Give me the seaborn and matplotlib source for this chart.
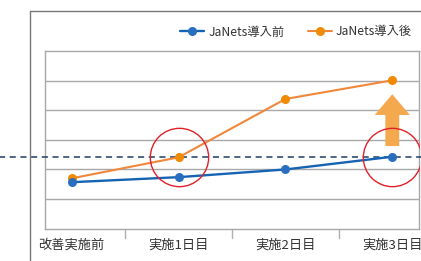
import numpy as np
import pandas as pd
import seaborn as sns
import matplotlib.pyplot as plt
from matplotlib.lines import Line2D
from matplotlib.patches import FancyArrow

categories = ['改善実施前', '実施1日目', '実施2日目', '実施3日目']
before = [1.57, 1.74, 2.00, 2.43]
after = [1.70, 2.41, 4.38, 5.01]
target = 2.42
series_names = ['JaNets導入前', 'JaNets導入後']

df = pd.DataFrame({
    'day': categories * 2,
    'value': before + after,
    'series': [series_names[0]] * 4 + [series_names[1]] * 4,
})

sns.set_theme(style='white')
plt.rcParams['font.family'] = ['Noto Sans CJK JP', 'DejaVu Sans']

fig = plt.figure(figsize=(4.21, 2.61), dpi=100)
ax = fig.add_axes([45 / 421, 1 - 228.7 / 261, 374 / 421, (228.7 - 51) / 261])

blue = '#1763b3'
orange = '#f0873a'

# orange first so the blue marker sits on top at the start
sns.lineplot(data=df[df.series == series_names[1]], x='day', y='value', ax=ax,
             color=orange, marker='o', markersize=6.5, markeredgewidth=0,
             markerfacecolor='#f08a00', linewidth=1.5, zorder=4, legend=False)
sns.lineplot(data=df[df.series == series_names[0]], x='day', y='value', ax=ax,
             color=blue, marker='o', markersize=6.5, markeredgewidth=0,
             markerfacecolor='#2a6fbf', linewidth=1.7, zorder=5, legend=False)

ax.set_xlim(-0.25, 3.25)
ax.set_ylim(0, 6)
ax.set_yticks([1, 2, 3, 4, 5])
ax.set_yticklabels([])
ax.grid(axis='y', color='#a8a8a8', linewidth=1)
ax.set_xlabel('')
ax.set_ylabel('')
ax.set_xticks([0, 1, 2, 3])
ax.set_xticklabels(categories, fontsize=9.5, color='#333333')
ax.tick_params(axis='x', length=0, pad=7)
ax.tick_params(axis='y', length=0)
for x in [0.5, 1.5, 2.5]:
    ax.plot([x, x], [0, -0.33], color='#b0b0b0', linewidth=1, clip_on=False)
for s in ax.spines.values():
    s.set_color('#a8a8a8')
    s.set_linewidth(1)

# target line running past the frame
ax.plot([-0.3, 1.2], [target, target], transform=ax.get_yaxis_transform(),
        color='#1f3d63', linewidth=1.1, linestyle=(0, (4, 3)), clip_on=False, zorder=3)

# red rings
ax.plot([1, 3], [target, target], linestyle='none', marker='o', markersize=42,
        markerfacecolor='none', markeredgecolor='#e0202a', markeredgewidth=1, zorder=6)

ax.add_patch(FancyArrow(3, 2.79, 0, 4.54 - 2.79, width=0.13, head_width=0.33,
                        head_length=0.70, length_includes_head=True,
                        color='#f5a94e', linewidth=0, zorder=2))

# outer frame
fig.add_artist(Line2D([30 / 421, 30 / 421], [0, 1 - 11 / 261], color='#777777', linewidth=1))
fig.add_artist(Line2D([30 / 421, 1], [1 - 11 / 261, 1 - 11 / 261], color='#777777', linewidth=1))

handles = [
    Line2D([], [], color=blue, marker='o', markersize=6.5, markerfacecolor='#2a6fbf',
           markeredgewidth=0, linewidth=1.7),
    Line2D([], [], color=orange, marker='o', markersize=6.5, markerfacecolor='#f08a00',
           markeredgewidth=0, linewidth=1.5),
]
leg = fig.legend(handles, series_names, loc='center right', bbox_to_anchor=(1.005, 1 - 32 / 261),
                 ncol=2, frameon=False, fontsize=8.8, handlelength=1.95,
                 handletextpad=0.35, columnspacing=1.9)
for t in leg.get_texts():
    t.set_color('#333333')

fig.savefig('out.png', dpi=100)
